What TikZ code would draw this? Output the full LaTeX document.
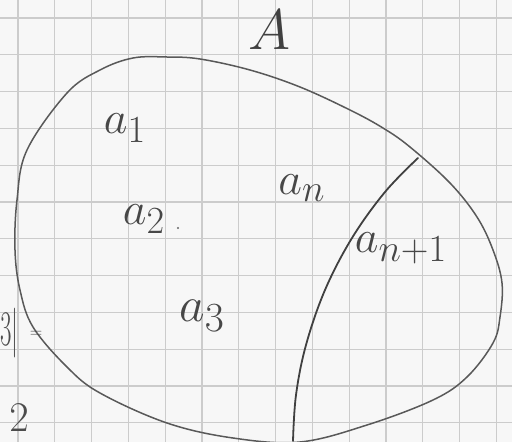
\documentclass[tikz,border=0pt]{standalone}
\begin{document}
\begin{tikzpicture}[x=1pt,y=-1pt,
  gridline/.style={draw=black!20,line width=1.2pt},
  outline/.style={draw=black!65,line width=1.5pt,line cap=round,line join=round},
  divider/.style={draw=black!75,line width=1.8pt,line cap=round},
  lbl/.style={text=black!72,font=\Huge,scale=1.85,inner sep=0pt},
  biglbl/.style={text=black!75,font=\Huge,scale=2.3,inner sep=0pt},
  frag/.style={text=black!70,font=\Huge,inner sep=0pt}]
\useasboundingbox (0,0) rectangle (512,442);
\clip (0,0) rectangle (512,442);
\fill[white!97!black] (0,0) rectangle (512,442);
% grid paper
\foreach \k in {0,...,13}{
  \draw[gridline] (18+36.8*\k,0) -- (18+36.8*\k,442);
}
\foreach \k in {0,...,11}{
  \draw[gridline] (0,18+36.8*\k) -- (512,18+36.8*\k);
}
% set A
\draw[outline] plot[smooth cycle,tension=0.6] coordinates {
  (133,58) (167,57) (200,59) (250,70) (300,87) (350,110) (383,128) (410,147)
  (450,183) (477,217) (493,250) (502,283) (500,317) (493,343) (467,377)
  (433,400) (367,425) (300,442) (233,438) (167,423) (100,393) (67,367)
  (33,327) (20,290) (15,250) (17,200) (27,150) (67,93) (100,70)};
% dividing curve
\coordinate (dtop) at (418,158);
\coordinate (dbot) at (293,441);
\draw[divider] plot[smooth,tension=0.6] coordinates {
  (418,158) (385,192) (352,238) (325,290) (306,345) (296,395) (293,441)};
% labels
\node[biglbl] (A) at (270,30) {$A$};
\node[lbl] (a1) at (125,128) {$a_1$};
\node[lbl] (a2) at (144,219) {$a_2$};
\fill[black!60] (178,228) circle (1.2pt);
\node[lbl] (an) at (302,188) {$a_n$};
\node[lbl] (an1) at (401,248) {$a_{n+1}$};
\node[lbl,scale=1.08] (a3) at (202,316) {$a_3$};
% fragments at the left edge
\node[frag,xscale=1.0,yscale=2.0,anchor=west] (fragB) at (0,333) {$3|$};
\node[text=black!70,font=\LARGE,inner sep=0pt] (fragEq) at (36,334) {$=$};
\node[frag,scale=1.7,anchor=north] (frag2) at (19,404) {$2$};
\end{tikzpicture}
\end{document}
